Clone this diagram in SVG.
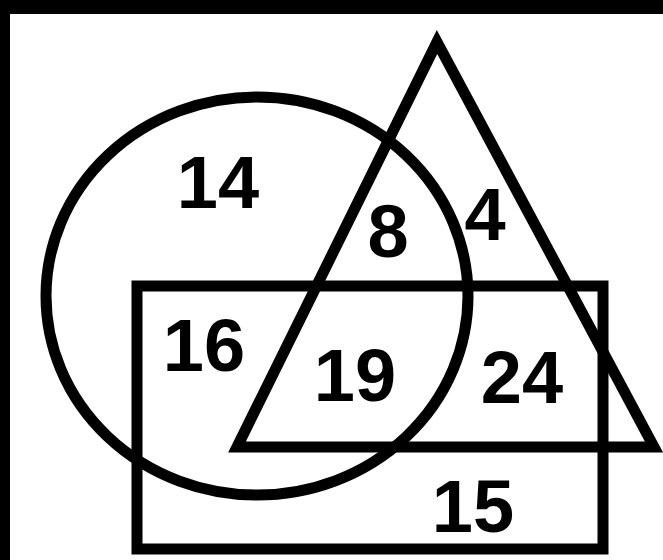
<svg xmlns="http://www.w3.org/2000/svg" width="663" height="560" viewBox="0 0 663 560">
<style>
.s{fill:none;stroke:#000;stroke-width:11;stroke-linejoin:miter}
.t{font-family:"Liberation Sans",Arial,sans-serif;font-weight:bold;font-size:74px;text-anchor:middle;fill:#000}
</style>
<rect width="663" height="560" fill="#fff"/>
<g id="frame"><rect x="0" y="0" width="663" height="14" fill="#000"/><rect x="0" y="0" width="10" height="560" fill="#000"/></g>
<g id="circle"><ellipse class="s" cx="257" cy="296" rx="211" ry="199"/></g>
<g id="triangle"><polygon class="s" points="437,42 237,447 654,447"/></g>
<g id="rectangle"><rect class="s" x="137" y="286" width="466" height="263"/></g>
<g id="labels">
<text class="t" x="218" y="208">14</text>
<text class="t" x="388" y="257">8</text>
<text class="t" x="485" y="240">4</text>
<text class="t" x="204" y="371">16</text>
<text class="t" x="355" y="401">19</text>
<text class="t" x="522" y="403">24</text>
<text class="t" x="473" y="532">15</text>
</g>
</svg>
